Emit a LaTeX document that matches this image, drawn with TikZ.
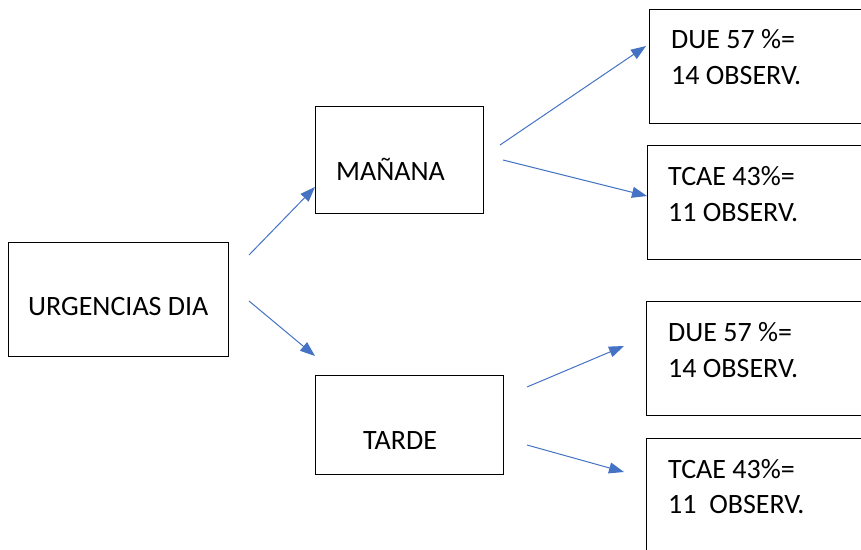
\documentclass[tikz,border=0pt]{standalone}
\usepackage{fontspec}
\setmainfont{Carlito}
\usetikzlibrary{arrows.meta}
\definecolor{arrowblue}{HTML}{4472C4}
\begin{document}
\begin{tikzpicture}[x=1pt,y=-1pt,
  box/.style={draw=black,line width=1.2pt,fill=white,anchor=north west,inner sep=0pt},
  lbl/.style={anchor=base west,inner sep=0pt,font=\fontsize{28}{33}\selectfont},
  conn/.style={draw=arrowblue,line width=1pt,-{Triangle[length=15pt,width=11pt]}}]
\useasboundingbox (0,0) rectangle (861,549);
\clip (0,0) rectangle (861,549);
% boxes
\node[box,minimum width=220pt,minimum height=114pt] (urg) at (8,242) {};
\node[box,minimum width=168pt,minimum height=107pt] (man) at (315,106) {};
\node[box,minimum width=188pt,minimum height=99pt] (tar) at (315,375) {};
\node[box,minimum width=251pt,minimum height=114pt] (due1) at (649,9) {};
\node[box,minimum width=253pt,minimum height=114pt] (tcae1) at (647,145) {};
\node[box,minimum width=254pt,minimum height=114pt] (due2) at (646,301) {};
\node[box,minimum width=254pt,minimum height=162pt] (tcae2) at (646,438) {};
% texts
\node[lbl] (turg) at (28,315) {URGENCIAS DIA};
\node[lbl] (tman) at (336,180) {MAÑANA};
\node[lbl] (ttar) at (363,449) {TARDE};
\node[lbl] (d1a) at (671,48) {DUE 57 \%=};
\node[lbl] (d1b) at (671,84) {14 OBSERV.};
\node[lbl] (t1a) at (668,185) {TCAE 43\%=};
\node[lbl] (t1b) at (668,221) {11 OBSERV.};
\node[lbl] (d2a) at (668,341) {DUE 57 \%=};
\node[lbl] (d2b) at (668,377) {14 OBSERV.};
\node[lbl] (t2a) at (668,478) {TCAE 43\%=};
\node[lbl] (t2b) at (668,513) {11\ \ OBSERV.};
% connector ends
\coordinate (a1s) at (249,255); \coordinate (a1e) at (315,187);
\coordinate (a2s) at (249,301); \coordinate (a2e) at (315,356);
\coordinate (a3s) at (500,145); \coordinate (a3e) at (646,46);
\coordinate (a4s) at (503,160); \coordinate (a4e) at (647,196);
\coordinate (a5s) at (527,387); \coordinate (a5e) at (624,346);
\coordinate (a6s) at (527,445); \coordinate (a6e) at (624,472);
\draw[conn] (a1s) -- (a1e);
\draw[conn] (a2s) -- (a2e);
\draw[conn] (a3s) -- (a3e);
\draw[conn] (a4s) -- (a4e);
\draw[conn] (a5s) -- (a5e);
\draw[conn] (a6s) -- (a6e);
\end{tikzpicture}
\end{document}
